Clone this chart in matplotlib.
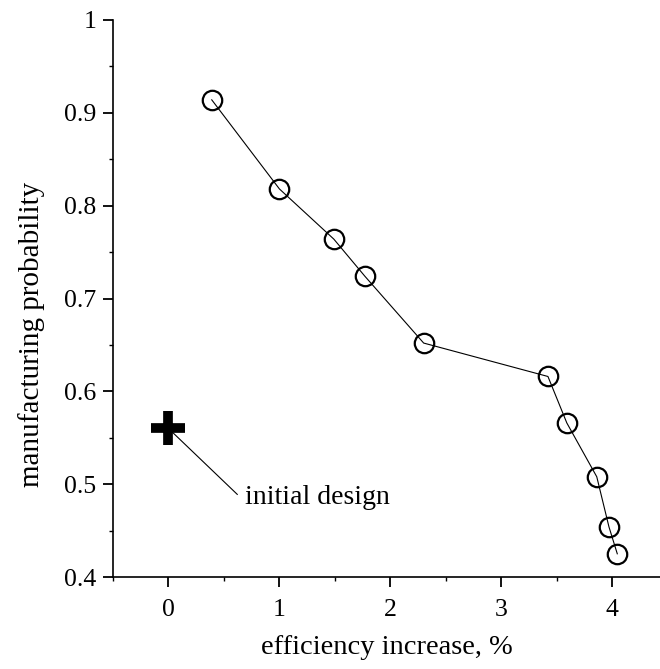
import matplotlib
matplotlib.use('Agg')
import matplotlib.pyplot as plt
from matplotlib.ticker import MultipleLocator, FuncFormatter

# pareto front: efficiency gain vs probability of manufacturing
efficiency = [0.39, 1.00, 1.49, 1.77, 2.30, 3.42, 3.59, 3.86, 3.97, 4.045]
probability = [0.914, 0.818, 0.764, 0.724, 0.652, 0.616, 0.566, 0.508, 0.454, 0.425]

initial_x = 0.0
initial_y = 0.560
initial_label = 'initial design'
label_pos = (0.69, 0.479)
leader_end = (0.62, 0.489)

plt.rcParams['font.family'] = ['Liberation Serif', 'DejaVu Serif']

fig = plt.figure(figsize=(6.6, 6.69), dpi=100)
ax = fig.add_axes([113 / 660, 1 - 577 / 669, 1 - 113 / 660, (577 - 20) / 669])

ax.plot(efficiency, probability, color='black', linewidth=0.8,
        marker='o', markersize=14, markerfacecolor='none',
        markeredgecolor='black', markeredgewidth=1.6)

# leader line from the starting design to its label
ax.plot([initial_x, leader_end[0]], [initial_y, leader_end[1]],
        color='black', linewidth=0.8, zorder=2)
ax.plot([initial_x], [initial_y], marker='+', markersize=25,
        markeredgewidth=7, color='black', linestyle='none', zorder=3)
ax.text(label_pos[0], label_pos[1], initial_label, fontsize=20,
        va='baseline', ha='left')

ax.set_xlim(-0.5, 4.43)
ax.set_ylim(0.4, 1.0)
ax.spines['top'].set_visible(False)
ax.spines['right'].set_visible(False)
for s in ('left', 'bottom'):
    ax.spines[s].set_linewidth(1.2)

ax.xaxis.set_major_locator(MultipleLocator(1))
ax.xaxis.set_minor_locator(MultipleLocator(0.5))
ax.yaxis.set_major_locator(MultipleLocator(0.1))
ax.yaxis.set_minor_locator(MultipleLocator(0.05))
ax.yaxis.set_major_formatter(FuncFormatter(lambda v, p: '%g' % round(v, 2)))

ax.tick_params(which='major', direction='out', length=7, width=1.3,
               labelsize=18.5)
ax.tick_params(axis='x', which='major', pad=9)
ax.tick_params(axis='y', which='major', pad=5)
ax.tick_params(which='minor', direction='out', length=3, width=1.0)

ax.set_xlabel('efficiency increase, %', fontsize=20.5, labelpad=10)
ax.set_ylabel('manufacturing probability', fontsize=21)
ax.yaxis.set_label_coords(-0.125, 0.435)

fig.savefig('out.png', dpi=100)
